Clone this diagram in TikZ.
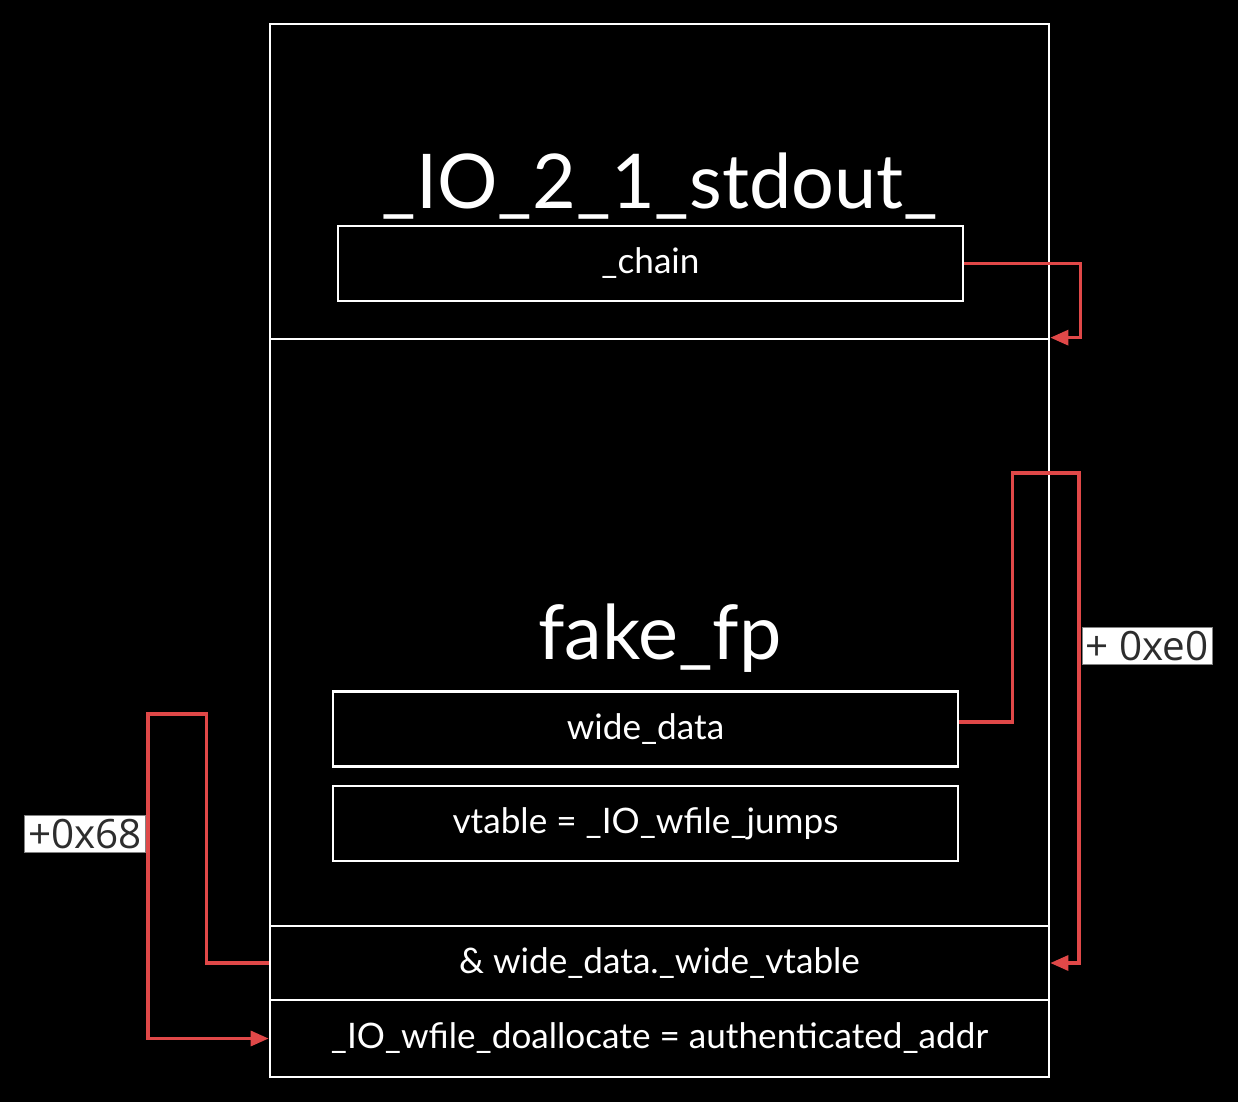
\documentclass[tikz,border=0pt]{standalone}
\usepackage{fontspec}
\setmainfont{Lato}
\newfontfamily\tagfont{Open Sans}
\usetikzlibrary{
    arrows.meta,
    positioning
}
\definecolor{ink}{RGB}{255,255,255}
\definecolor{ptrred}{RGB}{224,72,72}
\definecolor{tagtext}{RGB}{45,45,45}
\definecolor{tagborder}{RGB}{130,130,130}
\tikzset{
    section/.style={
        rectangle,
        draw=ink,
        line width=1.6pt,
        minimum width=15.58cm,
        inner sep=0pt,
        text=ink,
        font=\fontsize{20}{24}\selectfont
    },
    field/.style={
        rectangle,
        draw=ink,
        line width=1.6pt,
        minimum width=12.5cm,
        minimum height=1.5cm,
        text=ink,
        font=\fontsize{20}{24}\selectfont
    },
    structname/.style={
        text=ink,
        font=\fontsize{43}{50}\selectfont
    },
    pointer/.style={
        -{Triangle[length=0.36cm, width=0.3cm]},
        draw=ptrred,
        line width=1.8pt
    },
    offset/.style={
        rectangle,
        fill=white,
        draw=tagborder,
        line width=0.5pt,
        text=tagtext,
        inner sep=2pt,
        font=\tagfont\fontsize{23}{28}\selectfont
    }
}

\begin{document}
\begin{tikzpicture}[x=0.02cm, y=-0.02cm]
% Background
\path[fill=black] (0,0) rectangle (1238,1102);

% Struct sections
\node[section, minimum height=6.3cm] (stdout) at (659.5,181.5) {};
\node[section, minimum height=11.74cm] (fakefp) at (659.5,632.5) {};
\node[section, minimum height=1.48cm] (wvrow) at (659.5,963) {\& wide\_data.\_wide\_vtable};
\node[section, minimum height=1.54cm] (doalloc) at (659.5,1038.5) {\_IO\_wfile\_doallocate = authenticated\_addr};

% Titles
\node[structname] (stdoutname) at (660,186) {\_IO\_2\_1\_stdout\_};
\node[structname] (fakefpname) at (660,638) {fake\_fp};

% Fields
\node[field] (chain) at (650.5,263.5) {\_chain};
\node[field] (wide) at (645.5,729) {wide\_data};
\node[field] (vtable) at (645.5,823.5) {vtable = \_IO\_wfile\_jumps};

% Bend points
\coordinate (loopright) at (1079,473);
\coordinate (loopleft) at (148,714);

% Pointers
\draw[pointer] (chain.east) -- ++(116,0) |- (fakefp.north east);
\draw[pointer] ([yshift=0.14cm]wide.east) -- ++(53,0) |- (loopright) |- (wvrow.east);
\draw[pointer] (wvrow.west) -- ++(-62,0) |- (loopleft) |- (doalloc.west);

% Offsets
\node[offset] (offe0) at (1147,646) {+ 0xe0};
\node[offset] (off68) at (85,834) {+0x68};
\end{tikzpicture}
\end{document}
